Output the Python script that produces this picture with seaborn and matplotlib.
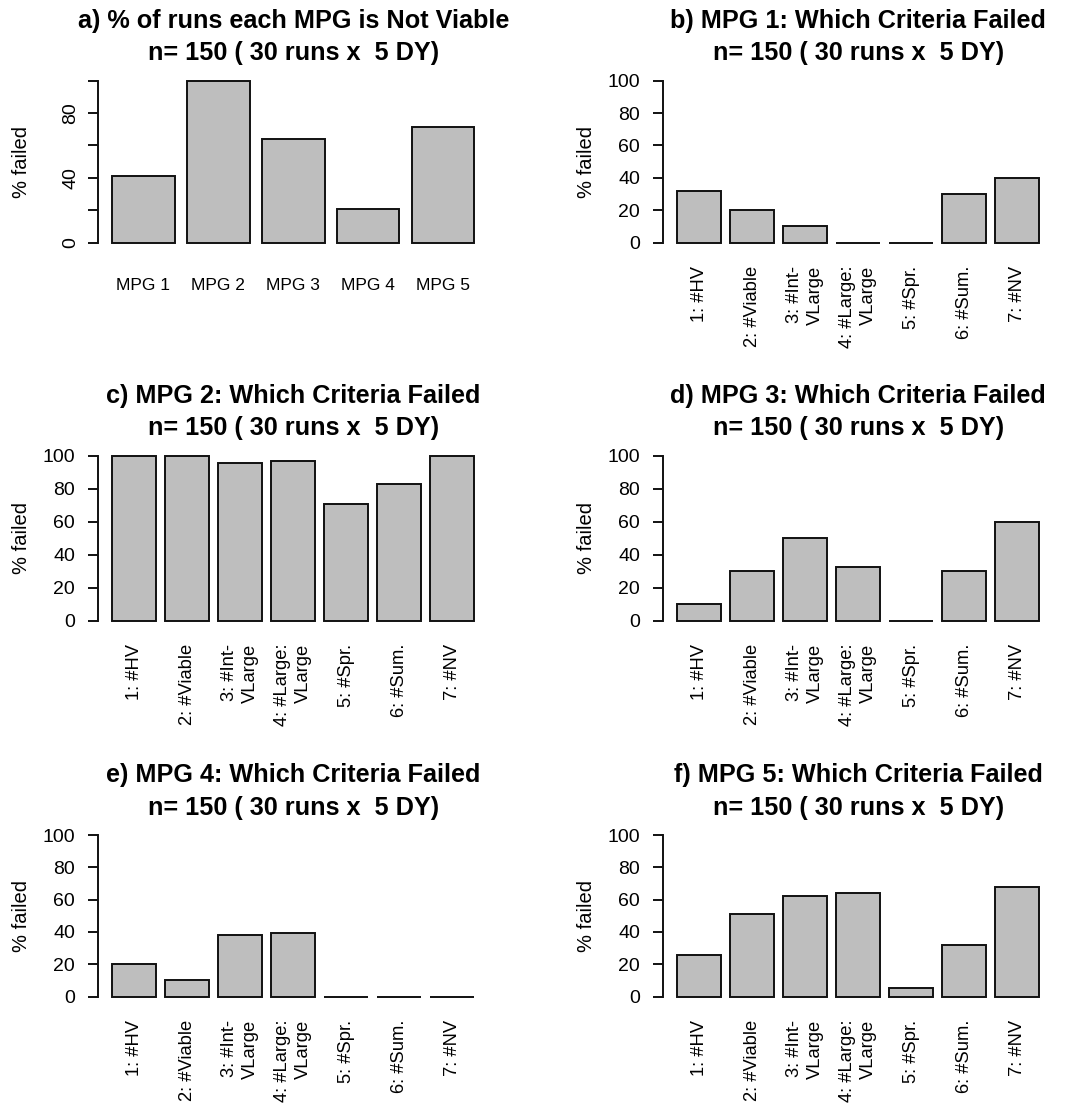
import matplotlib
matplotlib.use("Agg")
import matplotlib.pyplot as plt
import seaborn as sns

sns.set_style("white")
plt.rcParams['font.family'] = ['Liberation Sans', 'DejaVu Sans']
plt.rcParams['text.color'] = 'black'
plt.rcParams['axes.labelcolor'] = 'black'
plt.rcParams['xtick.color'] = 'black'
plt.rcParams['ytick.color'] = 'black'

# data (percent of 150 runs)
mpg_names = ["MPG 1", "MPG 2", "MPG 3", "MPG 4", "MPG 5"]
pct_not_viable = [41.3, 100, 64, 20.7, 71.3]

criteria = ["1: #HV", "2: #Viable", "3: #Int-\nVLarge", "4: #Large:\nVLarge",
            "5: #Spr.", "6: #Sum.", "7: #NV"]
mpg1_failed = [32, 20, 10, 0, 0, 30, 40]
mpg2_failed = [100, 100, 95.3, 96.7, 71, 83, 100]
mpg3_failed = [10, 30, 50, 32.7, 0, 30, 60]
mpg4_failed = [20, 10, 38, 39.3, 0, 0, 0]
mpg5_failed = [26, 51, 62, 64, 5, 32, 68]

subtitle = "n= 150 ( 30 runs x  5 DY)"
panel_titles = ["a) % of runs each MPG is Not Viable",
                "b) MPG 1: Which Criteria Failed",
                "c) MPG 2: Which Criteria Failed",
                "d) MPG 3: Which Criteria Failed",
                "e) MPG 4: Which Criteria Failed",
                "f) MPG 5: Which Criteria Failed"]

W, H = 1071, 1106
fig = plt.figure(figsize=(W / 100, H / 100), dpi=100)

# plot regions in pixels: (left, right, y of 0, y of 100)
cols = [(97.8, 488.8), (662.8, 1053.8)]
rows = [(242.7, 80.7), (620.7, 455.7), (996.5, 835.0)]

def make_ax(r, c):
    x0, x1 = cols[c]
    y0, y100 = rows[r]
    ppu = (y0 - y100) / 100.0
    top = y100 - 4 * ppu
    bot = y0 + 4 * ppu
    return fig.add_axes([x0 / W, 1 - bot / H, (x1 - x0) / W, (bot - top) / H])

grey = "#BEBEBE"
ink = "#111111"
bw = 1 / 1.2

def draw(ax, labels, values, title, first=False):
    sns.barplot(x=labels, y=values, color=grey, saturation=1, width=bw,
                edgecolor=ink, linewidth=1.4, ax=ax)
    n = len(labels)
    span = n - 1 + bw
    ax.set_xlim(-bw / 2 - 0.04 * span, n - 1 + bw / 2 + 0.04 * span)
    ax.set_ylim(-4, 104)
    for s in ["top", "right", "bottom"]:
        ax.spines[s].set_visible(False)
    ax.spines["left"].set_bounds(0, 100)
    ax.spines["left"].set_color(ink)
    ax.spines["left"].set_linewidth(1.4)
    ax.set_yticks([0, 20, 40, 60, 80, 100])
    ax.tick_params(axis="y", length=7.5, width=1.4, color=ink, left=True,
                   labelsize=14)
    ax.tick_params(axis="x", length=0)
    ax.set_xticks(range(n))
    if first:
        ax.set_yticklabels(["0", "", "40", "", "80", ""], rotation=90, va="center")
        ax.tick_params(axis="y", pad=6)
        ax.set_xticklabels(labels, fontsize=12.5)
        ax.tick_params(axis="x", pad=21)
    else:
        ax.tick_params(axis="y", pad=9)
        ax.set_xticklabels(labels, fontsize=13.2, rotation=90, va="top",
                           ha="center", multialignment="right", linespacing=1.3)
        ax.tick_params(axis="x", pad=12)
    ax.set_xlabel("")
    ax.set_ylabel("% failed", fontsize=14.5)
    ax.yaxis.set_label_coords(-0.172, 0.5)
    ax.set_title(title + "\n" + subtitle, fontsize=18.2, fontweight="bold",
                 pad=10, linespacing=1.45)

ax = make_ax(0, 0)
draw(ax, mpg_names, pct_not_viable, panel_titles[0], first=True)

series = [mpg1_failed, mpg2_failed, mpg3_failed, mpg4_failed, mpg5_failed]
slots = [(0, 1), (1, 0), (1, 1), (2, 0), (2, 1)]
for k, (vals, (r, c)) in enumerate(zip(series, slots)):
    ax = make_ax(r, c)
    draw(ax, criteria, vals, panel_titles[k + 1])

fig.savefig("out.png", dpi=100, facecolor="white")
